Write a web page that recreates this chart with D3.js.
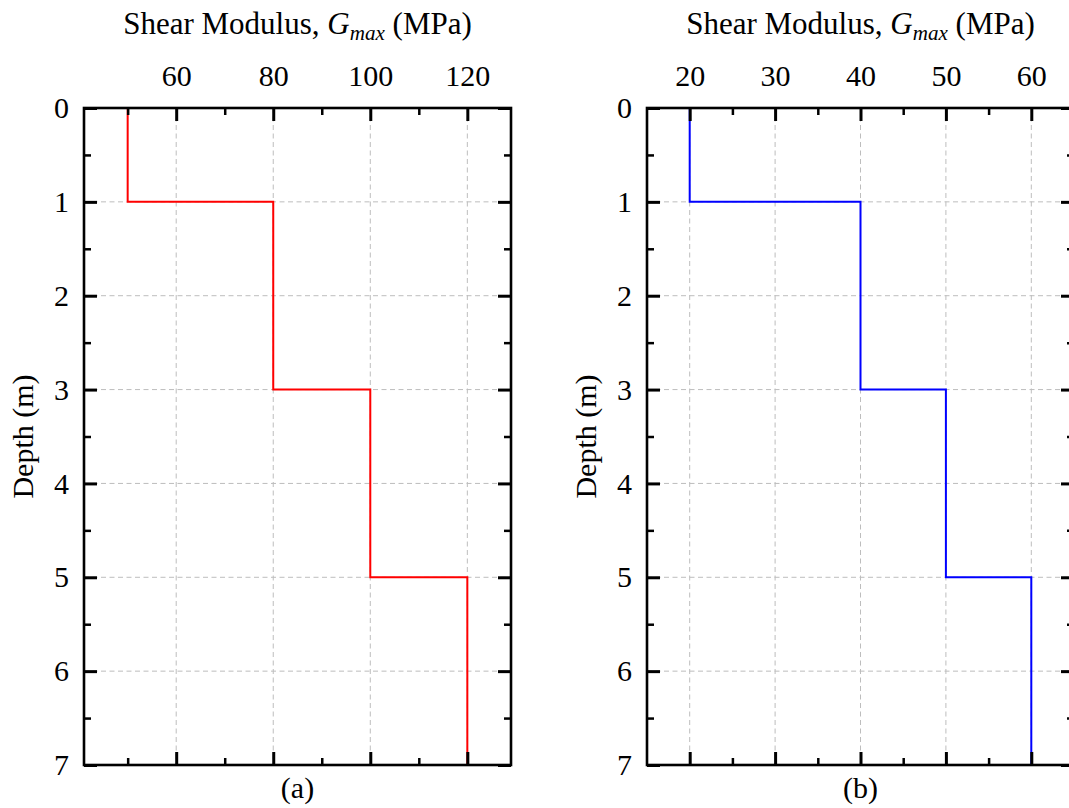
<!DOCTYPE html>
<html>
<head>
<meta charset="utf-8">
<script src="https://cdn.jsdelivr.net/npm/d3@7"></script>
<style>
  html, body { margin: 0; padding: 0; background: #fff; }
  svg { display: block; font-family: "Liberation Serif", "Times New Roman", serif; }
</style>
</head>
<body>
<svg id="chart" width="1069" height="808"></svg>
<script>
// Layer boundaries (depth, m) and shear modulus of each layer (MPa)
const depthBreaks = [0, 1, 3, 5, 7];
const gmaxA = [50, 80, 100, 120];
const gmaxB = [20, 40, 50, 60];

// Axis settings
const depthTicks = [0, 1, 2, 3, 4, 5, 6, 7];
const depthMinor = [0.5, 1.5, 2.5, 3.5, 4.5, 5.5, 6.5];
const ticksA = [60, 80, 100, 120];
const minorA = [50, 70, 90, 110];
const ticksB = [20, 30, 40, 50, 60];
const minorB = [25, 35, 45, 55];
const domainA = [41, 129];
const domainB = [15, 65];
const panelLabels = ["(a)", "(b)"];

const svg = d3.select("#chart");
const plotTop = 108, plotBottom = 765, plotW = 427;
const fontSize = 30;
const titleSize = 31;
const serif = "'Liberation Serif', 'Times New Roman', serif";

const panels = [
  { left: 84, domain: domainA, ticks: ticksA, minor: minorA, values: gmaxA, color: "#ff0000", label: panelLabels[0] },
  { left: 647, domain: domainB, ticks: ticksB, minor: minorB, values: gmaxB, color: "#0000ff", label: panelLabels[1] }
];

panels.forEach(p => {
  const x = d3.scaleLinear().domain(p.domain).range([p.left, p.left + plotW]);
  const y = d3.scaleLinear().domain([0, 7]).range([plotTop, plotBottom]);
  const g = svg.append("g");

  // dashed grid
  const grid = g.append("g").attr("stroke", "#bdbdbd").attr("stroke-width", 1)
    .attr("stroke-dasharray", "5,3.5").attr("fill", "none");
  grid.selectAll("line.v").data(p.ticks).join("line").attr("class", "v")
    .attr("x1", d => x(d)).attr("x2", d => x(d))
    .attr("y1", plotTop).attr("y2", plotBottom);
  grid.selectAll("line.h").data(depthTicks.slice(1, -1)).join("line").attr("class", "h")
    .attr("x1", p.left).attr("x2", p.left + plotW)
    .attr("y1", d => y(d)).attr("y2", d => y(d));

  // step profile
  const pts = [];
  p.values.forEach((v, i) => {
    pts.push([v, depthBreaks[i]]);
    pts.push([v, depthBreaks[i + 1]]);
  });
  g.append("path").datum(pts)
    .attr("fill", "none").attr("stroke", p.color).attr("stroke-width", 2)
    .attr("d", d3.line().x(d => x(d[0])).y(d => y(d[1])));

  // axes with inward ticks
  const styleAxis = (sel, width) => {
    sel.select(".domain").remove();
    sel.selectAll(".tick line").attr("stroke", "#000").attr("stroke-width", width);
    sel.selectAll(".tick text").attr("fill", "#000")
      .style("font-family", serif)
      .style("font-size", fontSize + "px");
  };

  g.append("g").attr("transform", `translate(0,${plotTop})`)
    .call(d3.axisTop(x).tickValues(p.ticks).tickSizeInner(-13).tickSizeOuter(0).tickPadding(22).tickFormat(d3.format("d")))
    .call(s => styleAxis(s, 3));
  g.append("g").attr("transform", `translate(0,${plotTop})`)
    .call(d3.axisTop(x).tickValues(p.minor).tickSizeInner(-7).tickSizeOuter(0).tickFormat(""))
    .call(s => styleAxis(s, 2.5));
  g.append("g").attr("transform", `translate(0,${plotBottom})`)
    .call(d3.axisBottom(x).tickValues(p.ticks).tickSizeInner(-13).tickSizeOuter(0).tickFormat(""))
    .call(s => styleAxis(s, 3));
  g.append("g").attr("transform", `translate(0,${plotBottom})`)
    .call(d3.axisBottom(x).tickValues(p.minor).tickSizeInner(-7).tickSizeOuter(0).tickFormat(""))
    .call(s => styleAxis(s, 2.5));

  g.append("g").attr("transform", `translate(${p.left},0)`)
    .call(d3.axisLeft(y).tickValues(depthTicks).tickSizeInner(-13).tickSizeOuter(0).tickPadding(15).tickFormat(d3.format("d")))
    .call(s => styleAxis(s, 3));
  g.append("g").attr("transform", `translate(${p.left},0)`)
    .call(d3.axisLeft(y).tickValues(depthMinor).tickSizeInner(-7).tickSizeOuter(0).tickFormat(""))
    .call(s => styleAxis(s, 2.5));
  g.append("g").attr("transform", `translate(${p.left + plotW},0)`)
    .call(d3.axisRight(y).tickValues(depthTicks).tickSizeInner(-13).tickSizeOuter(0).tickFormat(""))
    .call(s => styleAxis(s, 3));
  g.append("g").attr("transform", `translate(${p.left + plotW},0)`)
    .call(d3.axisRight(y).tickValues(depthMinor).tickSizeInner(-7).tickSizeOuter(0).tickFormat(""))
    .call(s => styleAxis(s, 2.5));

  // frame
  g.append("rect")
    .attr("x", p.left).attr("y", plotTop).attr("width", plotW).attr("height", plotBottom - plotTop)
    .attr("fill", "none").attr("stroke", "#000").attr("stroke-width", 2.6);

  // axis titles
  const cx = p.left + plotW / 2;
  const t = g.append("text").attr("x", cx).attr("y", 34)
    .attr("text-anchor", "middle").attr("font-size", titleSize).attr("fill", "#000");
  t.append("tspan").text("Shear Modulus, ");
  t.append("tspan").attr("font-style", "italic").text("G");
  t.append("tspan").attr("font-style", "italic").attr("font-size", titleSize * 0.68).attr("dy", 6).text("max");
  t.append("tspan").attr("dy", -6).text(" (MPa)");

  g.append("text")
    .attr("transform", `translate(${p.left - 51},${(plotTop + plotBottom) / 2}) rotate(-90)`)
    .attr("text-anchor", "middle").attr("font-size", fontSize).attr("fill", "#000")
    .text("Depth (m)");

  g.append("text").attr("x", cx).attr("y", 798)
    .attr("text-anchor", "middle").attr("font-size", fontSize).attr("fill", "#000")
    .text(p.label);
});
</script>
</body>
</html>
